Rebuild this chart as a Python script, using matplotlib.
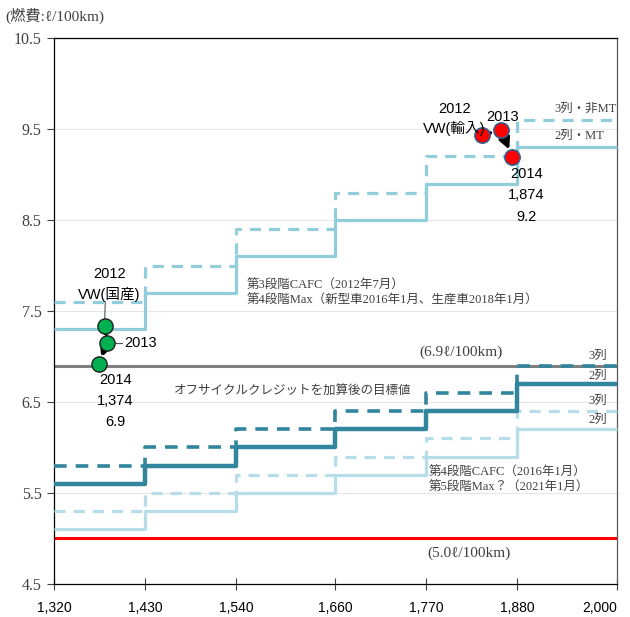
import matplotlib.pyplot as plt
import numpy as np

plt.rcParams['font.family'] = ['Liberation Serif', 'Noto Sans CJK JP', 'DejaVu Sans']

# 車両重量 (kg) の区切り
weight_edges = [1320, 1430, 1540, 1660, 1770, 1880, 2000]
weight_ticks = ['1,320', '1,430', '1,540', '1,660', '1,770', '1,880', '2,000']

# 第3段階 (2012) 目標値
stage3_2row = [7.3, 7.7, 8.1, 8.5, 8.9, 9.3]
stage3_3row = [7.6, 8.0, 8.4, 8.8, 9.2, 9.6]
# 第4段階
stage4_2row = [5.6, 5.8, 6.0, 6.2, 6.4, 6.7]
stage4_3row = [5.8, 6.0, 6.2, 6.4, 6.6, 6.9]
# 第5段階
stage5_2row = [5.1, 5.3, 5.5, 5.7, 5.9, 6.2]
stage5_3row = [5.3, 5.5, 5.7, 5.9, 6.1, 6.4]

avg_stage4 = 6.9
avg_stage5 = 5.0

# VW 実績
vw_dom_w = [1382, 1384, 1374]
vw_dom_f = [7.33, 7.15, 6.92]
vw_imp_w = [1837, 1860, 1874]
vw_imp_f = [9.43, 9.49, 9.19]

c3 = '#92CDDC'
c4 = '#31859C'
c5 = '#B7DEE8'

fig = plt.figure(figsize=(6.3, 6.17), dpi=100)
ax = fig.add_axes([0.0857, 0.0535, 0.8933, 0.8849])

def step(vals, color, lw, dashed=False):
    y = list(vals) + [vals[-1]]
    ls = (0, (3.5, 2.5)) if dashed else '-'
    ax.plot(weight_edges, y, drawstyle='steps-post', color=color, lw=lw, ls=ls,
            solid_capstyle='butt', dash_capstyle='butt', zorder=3, clip_on=False)

step(stage3_3row, c3, 2.3, True)
step(stage3_2row, c3, 2.3)
step(stage5_3row, c5, 2.3, True)
step(stage5_2row, c5, 2.3)
step(stage4_3row, c4, 2.6, True)
step(stage4_2row, c4, 3.2)

ax.axhline(avg_stage4, color='#7F7F7F', lw=2.2, zorder=2)
ax.axhline(avg_stage5, color='#FF0000', lw=2.2, zorder=2)

# VW国産
for i in range(2):
    ax.annotate('', xy=(vw_dom_w[i + 1], vw_dom_f[i + 1]), xytext=(vw_dom_w[i], vw_dom_f[i]),
                arrowprops=dict(arrowstyle='-|>', color='black', lw=3, mutation_scale=10,
                                shrinkA=5, shrinkB=5), zorder=5)
ax.scatter(vw_dom_w, vw_dom_f, s=120, color='#00B050', edgecolor='#1F1F1F', lw=1, zorder=6)
# VW輸入
for i in range(2):
    ax.annotate('', xy=(vw_imp_w[i + 1], vw_imp_f[i + 1]), xytext=(vw_imp_w[i], vw_imp_f[i]),
                arrowprops=dict(arrowstyle='-|>', color='black', lw=2.5, mutation_scale=16,
                                shrinkA=6, shrinkB=6), zorder=5)
ax.scatter(vw_imp_w, vw_imp_f, s=120, color='#FF0000', edgecolor='#385D8A', lw=1.2, zorder=6)

lab = dict(fontsize=10.5, family=['Liberation Sans', 'Noto Sans CJK JP'], ha='center', zorder=7)
ax.text(1387, 7.6, '2012\nVW(国産)', va='bottom', linespacing=1.45, **lab)
ax.plot([1382, 1381], [7.6, 7.35], color='#555555', lw=0.8)
ax.text(1405, 7.15, '2013', va='center', ha='left', fontsize=10.5, family='Liberation Sans')
ax.plot([1386, 1402], [7.15, 7.15], color='#555555', lw=0.8)
ax.text(1394, 6.82, '2014\n1,374\n6.9', va='top', linespacing=1.65, **lab)

ax.text(1804, 9.42, '2012\nVW(輸入)', va='bottom', linespacing=1.45, **lab)
ax.text(1862, 9.56, '2013', va='bottom', **lab)
ax.text(1891, 9.08, '2014\n1,874\n9.2', va='top', linespacing=1.65, **lab)

small = dict(fontsize=9, color='#404040', ha='center', zorder=7)
ax.text(1962, 9.66, '3列・非MT', va='bottom', **small)
ax.text(1955, 9.36, '2列・MT', va='bottom', **small)
ax.text(1977, 6.94, '3列', va='bottom', **small)
ax.text(1977, 6.72, '2列', va='bottom', **small)
ax.text(1977, 6.45, '3列', va='bottom', **small)
ax.text(1977, 6.24, '2列', va='bottom', **small)

note = dict(fontsize=9, color='#404040', zorder=7)
ax.text(1553, 7.55, '第3段階CAFC（2012年7月）\n第4段階Max（新型車2016年1月、生産車2018年1月）',
        va='bottom', linespacing=1.3, **note)
ax.text(1773, 5.49, '第4段階CAFC（2016年1月）\n第5段階Max？（2021年1月）',
        va='bottom', linespacing=1.3, **note)
ax.text(1465, 6.55, 'オフサイクルクレジットを加算後の目標値', va='bottom', **note)
ax.text(1812, 6.97, '(6.9ℓ/100km)', va='bottom', ha='center', fontsize=11, color='#404040')
ax.text(1822, 4.84, '(5.0ℓ/100km)', va='center', ha='center', fontsize=11, color='#404040')

ax.set_xlim(1320, 2000)
ax.set_ylim(4.5, 10.5)
ax.set_xticks(weight_edges)
ax.set_xticklabels(weight_ticks, family='Liberation Sans', fontsize=10)
ax.get_xticklabels()[-1].set_horizontalalignment('right')
ax.set_yticks(np.arange(4.5, 10.6, 1.0))
ax.set_yticklabels(['4.5', '5.5', '6.5', '7.5', '8.5', '9.5', '10.5'], fontsize=11.5, color='#404040')
ax.tick_params(axis='x', direction='inout', length=8, width=0.8, color='#404040', pad=8)
ax.tick_params(axis='y', direction='out', length=5, width=0.8, color='#404040', pad=4)
ax.grid(axis='y', color='#E6E6E6', lw=0.8, zorder=0)
for s in ax.spines.values():
    s.set_color('black')
    s.set_linewidth(0.9)
ax.spines['right'].set_color('#595959')

fig.text(0.008, 0.975, '(燃費:ℓ/100km)', fontsize=11, color='#404040', va='center')

fig.savefig('out.png', dpi=100)
